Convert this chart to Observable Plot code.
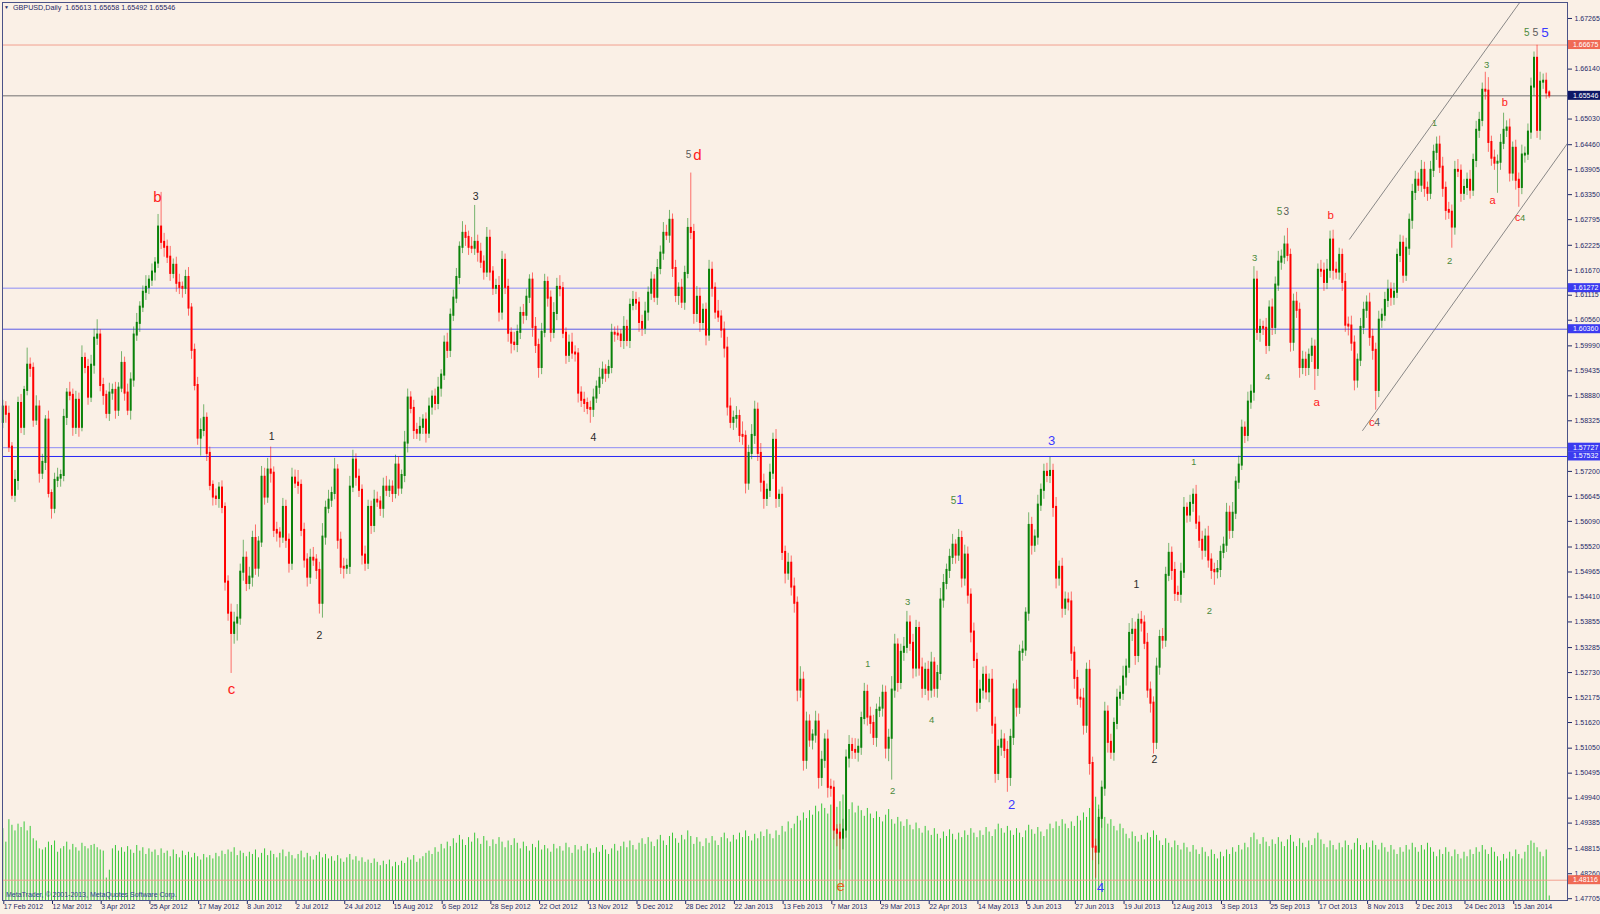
<!DOCTYPE html>
<html><head><meta charset="utf-8">
<script src="https://cdn.jsdelivr.net/npm/d3@7"></script>
<script src="https://cdn.jsdelivr.net/npm/@observablehq/plot@0.6"></script>
<style>
html,body{margin:0;padding:0;background:#FAF0E6;}
#wrap{position:relative;width:1600px;height:914px;overflow:hidden;background:#FAF0E6;font-family:"Liberation Sans",Arial,sans-serif;}
#wrap svg{position:absolute;left:0;top:0;}
#title{position:absolute;left:4px;top:3px;font-size:7.2px;line-height:8px;color:#1e2a66;white-space:nowrap;z-index:5;}
#title .tri{font-size:5px;margin-right:4px;vertical-align:1px;}
#copy{position:absolute;left:6px;top:891px;font-size:7px;line-height:8px;color:#2f3e8f;white-space:nowrap;z-index:5;}
</style></head><body><div id="wrap">
<div id="title"><span class="tri">▼</span>GBPUSD,Daily&nbsp; 1.65613 1.65658 1.65492 1.65546</div>
<div id="copy">MetaTrader, © 2001-2013, MetaQuotes Software Corp.</div>
</div>
<script>
// GBPUSD daily closes, in pips above 1.0000 (5863 -> 1.5863), one per bar
const closes = [
5863,5847,5774,5667,5700,5871,5818,5900,5956,5949,
5834,5863,5716,5740,5834,5671,5638,5700,5705,5711,
5840,5894,5889,5818,5878,5818,5971,5951,5885,5956,
6016,6023,5911,5889,5849,5894,5900,5856,5905,5960,
5894,5856,5923,6023,6049,6085,6118,6129,6145,6163,
6183,6263,6229,6218,6196,6160,6178,6138,6129,6127,
6151,6083,5989,5911,5794,5811,5838,5760,5689,5663,
5660,5683,5640,5474,5405,5360,5383,5394,5496,5527,
5471,5485,5571,5505,5563,5707,5663,5723,5716,5589,
5583,5574,5640,5567,5516,5705,5694,5689,5589,5523,
5485,5527,5523,5500,5427,5574,5638,5656,5671,5723,
5567,5507,5505,5509,5685,5745,5707,5678,5534,5516,
5640,5600,5656,5652,5638,5685,5678,5685,5671,5734,
5683,5711,5783,5883,5860,5811,5805,5818,5834,5805,
5863,5885,5871,5905,5934,6005,5989,6067,6105,6151,
6218,6249,6240,6218,6216,6229,6207,6185,6163,6238,
6163,6127,6131,6074,6189,6129,6027,6005,6002,6029,
6071,6067,6107,6145,6040,6000,5951,6029,6140,6105,
6029,6071,6129,6126,6027,5978,6005,5983,5981,5894,
5878,5871,5860,5858,5883,5907,5927,5945,5938,5951,
6027,6025,6023,6011,6040,6011,6089,6100,6094,6051,
6038,6074,6116,6145,6107,6171,6205,6249,6245,6278,
6171,6111,6127,6096,6160,6260,6251,6071,6107,6051,
6078,6023,6167,6127,6074,6063,6034,5994,5863,5829,
5838,5842,5800,5798,5694,5760,5800,5856,5760,5696,
5660,5678,5716,5789,5660,5667,5540,5494,5516,5463,
5427,5234,5256,5078,5163,5123,5134,5163,5040,5078,
5123,5018,5016,4923,4916,4905,4923,5083,5111,5100,
5096,5107,5171,5229,5174,5160,5129,5189,5194,5227,
5105,5127,5234,5334,5251,5318,5329,5383,5338,5283,
5371,5283,5238,5278,5234,5294,5238,5271,5434,5471,
5500,5529,5556,5534,5571,5483,5534,5445,5363,5300,
5207,5234,5267,5230,5256,5156,5049,5107,5123,5100,
5040,5129,5234,5196,5318,5323,5405,5600,5556,5574,
5645,5678,5718,5711,5720,5640,5483,5507,5416,5434,
5430,5316,5260,5216,5214,5156,5278,5071,4885,4874,
4949,5016,5185,5118,5096,5160,5216,5227,5263,5285,
5360,5367,5311,5389,5383,5338,5234,5205,5118,5285,
5351,5345,5489,5538,5500,5449,5447,5496,5638,5623,
5649,5667,5605,5567,5545,5574,5523,5500,5497,5502,
5540,5556,5627,5589,5627,5696,5734,5816,5800,5874,
5896,6145,6029,6040,6038,6000,6083,6040,6134,6185,
6196,6223,6200,6007,6096,6078,5951,5967,5951,5978,
5996,5949,6167,6165,6140,6167,6234,6167,6163,6200,
6140,6045,6043,6005,5923,5967,6040,6078,6094,6018,
5989,5900,6056,6067,6100,6123,6107,6118,6200,6227,
6156,6216,6278,6340,6367,6356,6389,6349,6338,6389,
6429,6445,6396,6349,6300,6296,6263,6389,6387,6338,
6351,6367,6345,6411,6478,6500,6567,6565,6451,6416,
6405,6407,6449,6478,6483,6383,6438,6367,6351,6423,
6425,6474,6574,6638,6478,6585,6587,6561,6555
];
const firstOpen = 1.5829;
// upper shadow above the body, pips
const upWick = [
15,12,18,10,22,14,20,9,38,16,
12,25,14,18,10,20,8,16,22,12,
18,10,24,14,20,16,28,12,18,22,
20,34,12,16,10,22,14,18,12,26,
14,20,16,18,22,12,14,26,10,18,
12,28,77,20,16,24,14,18,20,12,
16,22,10,14,18,26,30,12,14,10,
18,12,16,10,14,20,24,30,18,40,
14,22,16,30,12,24,20,26,51,14,
18,12,20,16,14,22,18,28,12,16,
14,20,24,12,18,30,16,22,14,26,
12,18,20,16,24,22,14,18,12,20,
16,14,22,18,12,20,24,16,14,22,
18,12,26,20,14,18,16,22,12,16,
20,14,18,24,12,16,22,14,18,20,
12,26,18,14,22,82,16,20,14,24,
18,12,16,22,20,14,18,12,24,16,
14,20,18,12,16,22,14,20,18,12,
16,24,20,26,14,12,18,22,16,12,
14,18,12,16,20,14,22,18,12,16,
20,14,18,12,24,16,14,20,18,12,
16,22,14,18,12,20,16,24,18,22,
14,18,12,20,16,22,123,18,24,20,
14,16,22,18,12,26,14,18,24,20,
16,22,14,30,12,18,24,20,16,22,
18,14,20,16,24,12,18,14,22,16,
20,14,30,18,22,16,12,24,18,20,
14,22,18,16,12,20,24,18,22,16,
26,18,14,20,16,22,18,14,24,18,
16,20,30,24,14,18,22,26,16,20,
18,14,22,16,20,24,12,18,26,20,
14,18,24,12,20,16,22,18,14,20,
16,22,18,20,14,24,18,16,22,14,
20,18,14,22,16,20,12,28,18,16,
22,14,18,20,31,16,22,14,20,18,
16,22,14,18,20,24,16,22,14,18,
20,16,22,14,18,12,20,16,24,18,
22,26,18,14,20,16,22,18,14,20,
16,20,18,22,14,18,16,20,24,12,
18,14,22,16,20,18,24,14,16,20,
14,18,22,16,24,12,20,18,14,22,
16,30,20,18,14,22,16,20,18,24,
16,20,37,14,18,22,16,20,18,14,
20,16,14,22,18,24,20,22,18,16,
14,20,18,22,16,14,20,18,16,22,
18,16,20,14,18,22,16,20,14,18,
16,22,14,18,20,16,22,18,14,20,
16,18,20,22,14,18,16,20,24,14,
18,16,22,14,20,18,16,40,30,14,
18,16,20,38,16,20,14,18,16,22,
16,18,20,14,29,22,16,18,5
];
// lower shadow below the body, pips
const downWick = [
14,20,12,10,16,22,14,18,12,20,
16,12,22,14,18,10,24,12,16,20,
14,18,12,20,16,22,10,14,18,12,
20,16,14,22,12,18,16,20,14,10,
18,12,22,16,14,20,12,18,16,14,
20,12,16,22,14,18,12,20,16,22,
14,18,20,12,16,40,14,18,12,20,
16,22,14,20,18,89,24,40,16,20,
18,14,22,16,20,12,18,14,22,16,
20,24,14,18,22,16,12,20,14,18,
22,16,14,20,24,33,18,12,16,14,
20,16,24,14,18,12,20,16,22,18,
14,20,16,12,18,22,14,16,20,12,
18,14,16,22,12,20,14,18,16,22,
12,18,16,14,20,12,18,16,14,12,
16,14,20,18,12,16,22,14,18,12,
20,16,14,22,18,16,20,24,14,18,
16,20,12,14,22,18,24,16,12,20,
22,14,16,18,12,20,16,14,18,22,
16,20,14,31,18,12,16,14,20,12,
14,18,12,16,20,14,18,12,16,22,
18,14,20,16,12,18,14,16,12,18,
20,16,22,14,18,12,16,24,20,22,
18,24,14,20,16,12,18,22,20,14,
18,22,16,20,24,16,14,20,18,22,
24,18,16,14,22,20,18,24,16,20,
22,26,18,24,20,16,22,18,26,20,
18,24,20,22,30,71,26,18,22,20,
16,22,18,14,20,24,18,22,16,20,
24,30,93,18,22,16,20,14,18,24,
20,18,22,16,24,18,20,22,16,18,
14,18,16,20,14,22,18,20,24,18,
22,16,20,18,24,20,22,16,20,18,
33,20,18,22,16,20,14,18,22,16,
18,14,20,16,18,22,24,18,22,16,
20,18,24,16,20,22,18,26,30,58,
28,22,18,24,16,20,14,18,16,20,
14,18,22,16,20,14,18,22,26,16,
18,20,16,14,22,18,16,20,14,18,
16,20,14,18,22,16,18,20,30,16,
18,14,16,20,18,14,16,12,18,14,
16,20,18,22,16,20,14,18,16,14,
18,16,14,22,20,18,24,16,20,18,
16,49,18,14,20,16,18,22,16,18,
20,16,22,18,24,18,14,16,18,20,
22,44,16,18,14,16,20,18,14,16,
18,14,16,20,18,14,16,20,18,14,
16,18,14,20,22,16,47,18,14,20,
16,18,20,14,16,18,14,20,22,18,
16,67,18,14,16,20,18,22,44,16,
18,14,16,20,18,22,16,14,6
];
// tick volume, thousands
const volume = [
64,52,72,67,62,68,65,70,62,66,
55,53,46,45,47,52,49,53,43,46,
48,52,45,50,47,44,51,48,46,49,
50,47,45,44,20,27,46,49,44,47,
43,48,45,42,49,44,47,41,46,43,
45,40,46,42,44,39,45,41,38,44,
40,43,38,42,39,36,41,38,40,37,
42,39,44,41,45,43,47,40,44,42,
39,43,41,45,38,42,46,40,44,41,
38,42,45,39,43,40,37,41,44,38,
42,39,36,40,43,38,41,37,39,35,
40,37,34,38,41,36,39,35,38,34,
36,33,37,34,31,35,32,36,30,34,
31,35,33,38,36,40,34,37,39,42,
44,41,47,43,50,46,52,48,55,51,
58,54,49,56,52,60,55,50,57,53,
48,54,50,56,52,47,53,49,55,51,
46,52,48,44,50,47,53,45,49,46,
43,50,46,48,44,51,47,42,49,45,
48,44,50,46,42,47,43,49,45,41,
46,50,44,48,52,47,53,49,45,51,
55,50,56,52,48,54,58,53,49,57,
60,55,51,58,54,62,57,50,56,52,
48,55,51,57,53,49,56,60,55,52,
58,54,60,56,62,57,53,59,55,61,
57,63,59,55,62,58,66,61,70,64,
68,75,71,78,73,80,76,84,79,86,
82,77,85,90,83,88,94,86,81,87,
78,84,80,75,82,77,73,79,74,70,
76,81,72,68,74,70,66,72,67,63,
69,64,60,66,62,58,64,59,55,61,
57,63,59,54,60,56,62,58,64,60,
56,62,58,65,61,57,63,68,64,60,
66,62,58,64,60,56,62,67,63,59,
65,61,57,63,68,64,70,66,72,68,
64,70,66,75,71,78,74,82,88,92,
85,79,74,68,72,66,62,68,64,59,
55,61,57,52,58,54,60,56,62,58,
53,49,55,51,47,53,49,45,51,47,
43,49,45,41,47,43,39,45,41,37,
43,39,45,41,47,43,49,45,51,47,
56,60,54,50,56,52,48,54,50,56,
52,48,54,58,52,48,55,51,47,53,
49,55,60,54,50,47,53,49,45,51,
47,53,49,45,51,55,49,45,51,47,
53,49,45,51,47,43,49,45,41,47,
43,49,45,51,47,43,49,45,51,47,
43,39,45,41,47,43,39,45,41,37,
43,39,45,41,47,43,49,45,41,47,
43,39,35,41,37,43,39,45,41,37,
43,49,53,51,47,43,39,45,4
];
// date labels every 16 bars
const dateLabels = ["17 Feb 2012","12 Mar 2012","3 Apr 2012","25 Apr 2012","17 May 2012","8 Jun 2012","2 Jul 2012","24 Jul 2012","15 Aug 2012","6 Sep 2012","28 Sep 2012","22 Oct 2012","13 Nov 2012","5 Dec 2012","28 Dec 2012","22 Jan 2013","13 Feb 2013","7 Mar 2013","29 Mar 2013","22 Apr 2013","14 May 2013","5 Jun 2013","27 Jun 2013","19 Jul 2013","12 Aug 2013","3 Sep 2013","25 Sep 2013","17 Oct 2013","8 Nov 2013","2 Dec 2013","24 Dec 2013","15 Jan 2014"];
const dateTickBars = dateLabels.map((d,k)=>k*16);
// price axis ticks
const priceTicks = [1.67265,1.66140,1.65030,1.64460,1.63905,1.63350,1.62795,1.62225,1.61670,1.61115,1.60560,1.59990,1.59435,1.58880,1.58325,1.57200,1.56645,1.56090,1.55520,1.54965,1.54410,1.53855,1.53285,1.52730,1.52175,1.51620,1.51050,1.50495,1.49940,1.49385,1.48815,1.48260,1.47705];
// horizontal levels
const levels = [
 {price:1.66675, line:"#f2a090", box:"#f06a55"},
 {price:1.65546, line:"#707070", box:"#0c1666"},
 {price:1.61272, line:"#8c8cf6", box:"#3b3bf0"},
 {price:1.60360, line:"#5a5ae6", box:"#3b3bf0"},
 {price:1.57727, line:"#8c8cf6", box:"#3b3bf0"},
 {price:1.57532, line:"#2626f4", box:"#3b3bf0"},
 {price:1.48116, line:"#f2a090", box:"#f06a55"}
];
// channel lines (bar index, price)
const channelUpper = [{bar:442.4, price:1.6236},{bar:498.2, price:1.6761}];
const channelLower = [{bar:446.7, price:1.5811},{bar:514, price:1.6449}];
// wave labels
const RED="#ff2020", BLK="#2a2a2a", GRN="#4a8a3a", BLU="#3a3aff", GRY="#5a5a5a", ORG="#e8601c";
const waves = [
 {t:"b",bar:50.8,price:1.6329,c:RED,s:15},
 {t:"c",bar:75.1,price:1.5236,c:RED,s:15},
 {t:"1",bar:88.3,price:1.5798,c:BLK,s:10.5},
 {t:"2",bar:104,price:1.5354,c:BLK,s:10.5},
 {t:"3",bar:155.3,price:1.6331,c:BLK,s:10.5},
 {t:"4",bar:194,price:1.5794,c:BLK,s:10.5},
 {t:"5",bar:225.3,price:1.6423,c:GRY,s:10},
 {t:"d",bar:228.2,price:1.6423,c:RED,s:15},
 {t:"e",bar:275.2,price:1.4798,c:ORG,s:15},
 {t:"1",bar:284.1,price:1.5291,c:GRN,s:9},
 {t:"2",bar:292.3,price:1.5009,c:GRN,s:9.5},
 {t:"3",bar:297.2,price:1.5431,c:GRN,s:9.5},
 {t:"4",bar:305.1,price:1.5167,c:GRN,s:9.5},
 {t:"5",bar:312.3,price:1.5654,c:GRN,s:10},
 {t:"1",bar:314.4,price:1.5656,c:BLU,s:13},
 {t:"2",bar:331.4,price:1.4978,c:BLU,s:13},
 {t:"3",bar:344.5,price:1.5787,c:BLU,s:13},
 {t:"4",bar:360.6,price:1.4794,c:BLU,s:13},
 {t:"1",bar:372.4,price:1.5469,c:BLK,s:10.5},
 {t:"2",bar:378.3,price:1.5080,c:BLK,s:10.5},
 {t:"1",bar:391.2,price:1.5740,c:GRN,s:9},
 {t:"2",bar:396.4,price:1.5409,c:GRN,s:9.5},
 {t:"3",bar:411.2,price:1.6194,c:GRN,s:9.5},
 {t:"4",bar:415.5,price:1.5929,c:GRN,s:9.5},
 {t:"5",bar:419.4,price:1.6296,c:GRN,s:10},
 {t:"3",bar:421.6,price:1.6296,c:GRY,s:10},
 {t:"a",bar:431.6,price:1.5874,c:RED,s:11.5},
 {t:"b",bar:436.2,price:1.6289,c:RED,s:11.5},
 {t:"c",bar:449.7,price:1.5829,c:RED,s:11.5},
 {t:"4",bar:451.5,price:1.5829,c:GRY,s:10.5},
 {t:"1",bar:470.3,price:1.6494,c:GRN,s:9},
 {t:"2",bar:475.3,price:1.6187,c:GRN,s:9.5},
 {t:"3",bar:487.4,price:1.6623,c:GRN,s:9.5},
 {t:"a",bar:489.4,price:1.6323,c:RED,s:11},
 {t:"b",bar:493.4,price:1.6540,c:RED,s:11},
 {t:"c",bar:497.6,price:1.6283,c:RED,s:10.5},
 {t:"4",bar:499.3,price:1.6283,c:GRN,s:9.5},
 {t:"5",bar:500.6,price:1.6694,c:GRN,s:10},
 {t:"5",bar:503.5,price:1.6694,c:GRY,s:10.5},
 {t:"5",bar:506.6,price:1.6696,c:BLU,s:13.5}
];

const UP="#0a820a", DOWN="#ff0000", AX="#1e2a66";
const bars = closes.map((v,i)=>{
  const c = 1 + v/10000;
  const o = i===0 ? firstOpen : 1 + closes[i-1]/10000;
  return {i, o, c,
    hi: Math.max(o,c) + upWick[i]/10000,
    lo: Math.min(o,c) - downWick[i]/10000,
    vol: volume[i], col: c>=o ? UP : DOWN};
});

const common = {width:1600, height:914, marginLeft:2, marginRight:33, marginTop:2, marginBottom:14};
const xDom = [-0.1, 514];

const volChart = Plot.plot({
  ...common,
  style:{background:"transparent"},
  x:{type:"linear", domain:xDom, axis:null},
  y:{type:"linear", domain:[0,800], axis:null},
  marks:[
    Plot.ruleX(bars, {x:"i", y1:0, y2:"vol", stroke:"#38c838", strokeWidth:1})
  ]
});

const font = "Liberation Sans, Arial, sans-serif";
const waveMarks = waves.map(w => Plot.text([w], {x:"bar", y:"price", text:"t", fill:w.c, fontSize:w.s, fontFamily:font, textAnchor:"middle", lineAnchor:"middle"}));

const priceChart = Plot.plot({
  ...common,
  style:{background:"transparent", overflow:"visible", fontFamily:font},
  x:{type:"linear", domain:xDom, axis:null},
  y:{type:"linear", domain:[1.47665,1.6762], axis:null},
  color:{type:"identity"},
  marks:[
    Plot.ruleY(levels, {y:"price", stroke:"line", strokeWidth:1}),
    Plot.line(channelUpper, {x:"bar", y:"price", stroke:"#7c7c7c", strokeWidth:0.9}),
    Plot.line(channelLower, {x:"bar", y:"price", stroke:"#7c7c7c", strokeWidth:0.9}),
    Plot.ruleX(bars, {x:"i", y1:"lo", y2:"hi", stroke:"col", strokeWidth:1, strokeOpacity:0.55}),
    Plot.ruleX(bars, {x:"i", y1:"o", y2:"c", stroke:"col", strokeWidth:2, strokeLinecap:"square"}),
    ...waveMarks,
    Plot.axisY(priceTicks, {anchor:"right", label:null, tickSize:4, tickPadding:3, tickFormat:d=>d.toFixed(5), fontSize:7, fill:AX, stroke:AX}),
    Plot.axisX(dateTickBars, {anchor:"bottom", label:null, tickSize:4, tickPadding:0, tickFormat:d=>dateLabels[d/16], textAnchor:"start", dx:1, fontSize:7, fill:AX, stroke:AX}),
    Plot.frame({stroke:"#4a5288", strokeWidth:1})
  ]
});

// value boxes on the price axis for the horizontal levels
const ys = priceChart.scale("y");
const svg = d3.select(priceChart);
const gb = svg.append("g").attr("font-family", font).attr("font-size", 7).attr("text-anchor", "start");
for (const l of levels) {
  const y = ys.apply(l.price);
  gb.append("rect").attr("x",1568).attr("y",y-4.5).attr("width",32).attr("height",9).attr("fill",l.box);
  gb.append("text").attr("x",1573).attr("y",y).attr("dy","0.35em").attr("text-anchor","start").attr("fill","#ffffff").text(l.price.toFixed(5));
}

const wrap = document.getElementById("wrap");
wrap.insertBefore(priceChart, wrap.firstChild);
wrap.insertBefore(volChart, wrap.firstChild);
</script></body></html>
